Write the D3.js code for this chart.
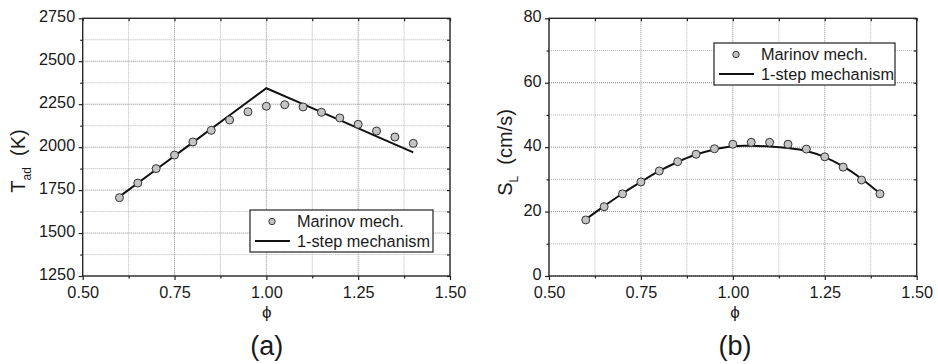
<!DOCTYPE html>
<html>
<head>
<meta charset="utf-8">
<script src="https://cdn.jsdelivr.net/npm/d3@7/dist/d3.min.js"></script>
<style>
  html, body { margin: 0; padding: 0; background: #fff; }
  svg { display: block; }
  text { font-family: "Liberation Sans", Arial, sans-serif; fill: #1a1a1a; }
</style>
</head>
<body>
<svg id="chart" width="938" height="364"></svg>
<script>
// Equivalence ratio values shared by both panels
const phi = [0.60, 0.65, 0.70, 0.75, 0.80, 0.85, 0.90, 0.95, 1.00,
             1.05, 1.10, 1.15, 1.20, 1.25, 1.30, 1.35, 1.40];

// (a) adiabatic flame temperature, K
const tadMarinov = [1706, 1791, 1875, 1954, 2030, 2098, 2158, 2206, 2238,
                    2247, 2234, 2203, 2170, 2133, 2094, 2059, 2022];
const phiOneStepT = [0.6, 0.7, 0.8, 0.9, 1.0, 1.1, 1.2, 1.3, 1.4];
const tadOneStep  = [1712, 1870, 2028, 2186, 2343, 2250, 2157, 2063, 1970];

// (b) laminar flame speed, cm/s
const slMarinov = [17.4, 21.5, 25.5, 29.2, 32.6, 35.5, 37.8, 39.5, 40.9,
                   41.5, 41.5, 40.9, 39.4, 37.0, 33.8, 29.8, 25.5];
const slOneStep = [17.6, 21.7, 25.6, 29.2, 32.6, 35.4, 37.7, 39.3, 40.3,
                   40.4, 40.2, 39.7, 38.8, 36.9, 34.0, 30.2, 25.6];

// Tick values
const xTicks = [0.50, 0.75, 1.00, 1.25, 1.50];
const xMinor = [0.625, 0.875, 1.125, 1.375];
const tTicks = [1250, 1500, 1750, 2000, 2250, 2500, 2750];
const tMinor = [1375, 1625, 1875, 2125, 2375, 2625];
const sTicks = [0, 20, 40, 60, 80];
const sMinor = [10, 30, 50, 70];

const legendLabels = ["Marinov mech.", "1-step mechanism"];

const svg = d3.select("#chart");

function panel(opt) {
  const g = svg.append("g");
  const x = d3.scaleLinear().domain([0.5, 1.5]).range([opt.left, opt.right]);
  const y = d3.scaleLinear().domain(opt.yDomain).range([opt.bottom, opt.top]);

  // dotted grid at major and minor positions
  const grid = g.append("g");
  xTicks.concat(xMinor).forEach(v => {
    const major = xTicks.includes(v);
    grid.append("line")
      .attr("x1", x(v)).attr("x2", x(v))
      .attr("y1", opt.top).attr("y2", opt.bottom)
      .attr("stroke", major ? "#8c8c8c" : "#b8b8b8")
      .attr("stroke-width", 1)
      .attr("stroke-dasharray", "1,1");
  });
  opt.yTicks.concat(opt.yMinor).forEach(v => {
    const major = opt.yTicks.includes(v);
    grid.append("line")
      .attr("x1", opt.left).attr("x2", opt.right)
      .attr("y1", y(v)).attr("y2", y(v))
      .attr("stroke", major ? "#8c8c8c" : "#b8b8b8")
      .attr("stroke-width", 1)
      .attr("stroke-dasharray", "1,1");
  });

  // axes
  const fmtX = d3.format(".2f");
  g.append("g").attr("transform", `translate(0,${opt.bottom})`)
    .call(d3.axisBottom(x).tickValues(xTicks).tickFormat(fmtX).tickSize(4).tickPadding(6.5));
  g.append("g").attr("transform", `translate(0,${opt.bottom})`)
    .call(d3.axisBottom(x).tickValues(xMinor).tickFormat("").tickSize(2.5));
  const leftAxis = g.append("g").attr("transform", `translate(${opt.left},0)`)
    .call(d3.axisLeft(y).tickValues(opt.yTicks).tickFormat(d3.format("d")).tickSize(4).tickPadding(3.5));
  g.append("g").attr("transform", `translate(${opt.left},0)`)
    .call(d3.axisLeft(y).tickValues(opt.yMinor).tickFormat("").tickSize(2.5));
  // inward ticks on top and right edges
  g.append("g").attr("transform", `translate(0,${opt.top})`)
    .call(d3.axisBottom(x).tickValues(xTicks.concat(xMinor)).tickFormat("").tickSize(3));
  g.append("g").attr("transform", `translate(${opt.right},0)`)
    .call(d3.axisLeft(y).tickValues(opt.yTicks.concat(opt.yMinor)).tickFormat("").tickSize(3));

  g.selectAll(".domain").remove();
  g.selectAll(".tick line").attr("stroke", "#222").attr("stroke-width", 1.2);
  g.selectAll(".tick text").attr("font-size", 16.3).attr("fill", "#1a1a1a")
    .attr("font-family", "'Liberation Sans', Arial, sans-serif");
  leftAxis.selectAll(".tick text").attr("dy", "0.22em");

  // frame
  g.append("rect")
    .attr("x", opt.left).attr("y", opt.top)
    .attr("width", opt.right - opt.left).attr("height", opt.bottom - opt.top)
    .attr("fill", "none").attr("stroke", "#222").attr("stroke-width", 1.3);

  // 1-step line
  const line = d3.line().x(d => x(d[0])).y(d => y(d[1])).curve(opt.curve);
  g.append("path")
    .datum(opt.lineX.map((v, i) => [v, opt.lineY[i]]))
    .attr("d", line)
    .attr("fill", "none").attr("stroke", "#111").attr("stroke-width", 2);

  // Marinov points
  g.append("g").selectAll("circle")
    .data(phi.map((v, i) => [v, opt.points[i]]))
    .join("circle")
    .attr("cx", d => x(d[0])).attr("cy", d => y(d[1])).attr("r", 4)
    .attr("fill", "#c4c4c4").attr("stroke", "#333").attr("stroke-width", 1);

  // legend
  const L = opt.legend;
  const lg = g.append("g");
  lg.append("rect").attr("x", L.x).attr("y", L.y).attr("width", L.w).attr("height", L.h)
    .attr("fill", "#fff").attr("stroke", "#222").attr("stroke-width", 1.2);
  lg.append("circle").attr("cx", L.x + 22).attr("cy", L.y + 11.5).attr("r", 3.2)
    .attr("fill", "#c4c4c4").attr("stroke", "#333").attr("stroke-width", 1);
  lg.append("line").attr("x1", L.x + 5).attr("x2", L.x + 40)
    .attr("y1", L.y + 31).attr("y2", L.y + 31)
    .attr("stroke", "#111").attr("stroke-width", 2);
  lg.append("text").attr("x", L.x + 47).attr("y", L.y + 17).attr("font-size", 16.3)
    .text(legendLabels[0]);
  lg.append("text").attr("x", L.x + 47).attr("y", L.y + 37).attr("font-size", 16.3)
    .text(legendLabels[1]);

  // y axis title with subscript
  const yt = g.append("text")
    .attr("transform", `translate(${opt.yTitleX},${opt.yTitleY}) rotate(-90)`)
    .attr("text-anchor", "middle").attr("font-size", 20);
  yt.append("tspan").text(opt.yTitle[0]);
  yt.append("tspan").attr("font-size", 12).attr("dy", 6).text(opt.yTitle[1]);
  yt.append("tspan").attr("dy", -6).text("\u00a0\u00a0" + opt.yTitle[2]);

  // x axis title and panel tag
  const cx = opt.tagX;
  g.append("text").attr("x", cx).attr("y", 318).attr("text-anchor", "middle")
    .attr("font-size", 17).attr("font-family", "'DejaVu Sans', sans-serif").text("\u03d5");
  g.append("text").attr("x", cx).attr("y", 355).attr("text-anchor", "middle")
    .attr("font-size", 27).text(opt.tag);
}

panel({
  left: 82.7, right: 450, top: 18.3, bottom: 276,
  yDomain: [1250, 2750], yTicks: tTicks, yMinor: tMinor,
  points: tadMarinov, lineX: phiOneStepT, lineY: tadOneStep, curve: d3.curveLinear,
  legend: { x: 250, y: 210, w: 183, h: 42 },
  yTitle: ["T", "ad", "(K)"], yTitleX: 25, yTitleY: 161,
  tagX: 266.7, tag: "(a)"
});

panel({
  left: 549, right: 916.7, top: 18.3, bottom: 276,
  yDomain: [0, 80], yTicks: sTicks, yMinor: sMinor,
  points: slMarinov, lineX: phi, lineY: slOneStep, curve: d3.curveCatmullRom,
  legend: { x: 714, y: 43, w: 181, h: 42 },
  yTitle: ["S", "L", "(cm/s)"], yTitleX: 511.5, yTitleY: 152.5,
  tagX: 735, tag: "(b)"
});
</script>
</body>
</html>
